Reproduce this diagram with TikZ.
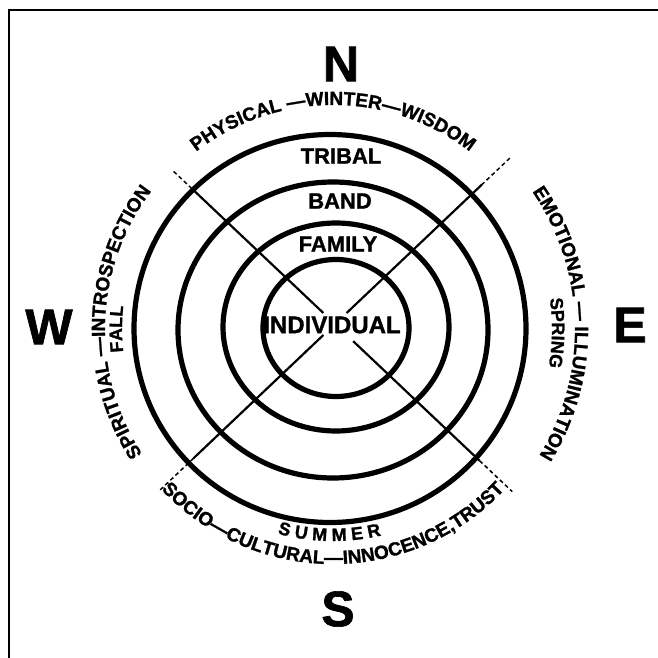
\documentclass[tikz,border=0pt]{standalone}
\usepackage{fontspec}
\setmainfont{Liberation Sans}
\newfontfamily\heavy{Liberation Sans Bold}[FakeBold=1.3]
\usetikzlibrary{decorations.text}
\newcommand{\arcfont}{\fontsize{19}{19}\selectfont\heavy}
\newcommand{\seasonfont}{\fontsize{18}{18}\selectfont\heavy}

\begin{document}
\begin{tikzpicture}[
  x=1pt, y=1pt,
  ring/.style={line width=5.2pt},
  spoke/.style={line width=2.2pt},
  spokeext/.style={line width=1.5pt,dash pattern=on 4pt off 3pt},
  frame/.style={line width=2.4pt},
  circlbl/.style={font=\fontsize{22}{22}\selectfont\heavy,inner sep=0pt},
  compass/.style={font=\fontsize{50}{50}\selectfont\heavy,inner sep=0pt},
  arctext/.style={decorate,decoration={text along path,text align=center,text={#1}}}
]
  \useasboundingbox (0,0) rectangle (658,-658);
  \draw[frame] (9,-658) -- (9,-10) -- (658,-10);

  \coordinate (ctr) at (333,-329);
  \coordinate (xc) at (335,-324);

  % the four circles
  \draw[ring] (330,-328.5) ellipse[x radius=196, y radius=194];
  \draw[ring] (333,-330) ellipse[x radius=155, y radius=148];
  \draw[ring] (336,-327) ellipse[x radius=113, y radius=104];
  \draw[ring] (336,-328) ellipse[x radius=73, y radius=68.5];

  % cross lines, dashed beyond the outer circle
  \foreach \nm/\ang/\gap/\rim/\tip in {nw/136.6/16/197/222, ne/43.5/16/202/244,
                                      sw/223.5/16/195/241, se/316.6/25/199/244}{
    \coordinate (\nm-in) at ([shift={(\ang:\gap)}]xc);
    \coordinate (\nm-rim) at ([shift={(\ang:\rim)}]xc);
    \coordinate (\nm-tip) at ([shift={(\ang:\tip)}]xc);
    \draw[spoke] (\nm-in) -- (\nm-rim);
    \draw[spokeext] (\nm-rim) -- (\nm-tip);
  }

  \node[circlbl] (tribal) at (341,-156) {TRIBAL};
  \node[circlbl] (band) at (340,-201) {BAND};
  \node[circlbl] (family) at (338,-244) {FAMILY};
  \node[circlbl,font=\fontsize{24}{24}\selectfont\heavy] (individual) at (332,-325) {INDIVIDUAL};

  \node[compass] (north) at (341,-64) {N};
  \node[compass] (west) at (49,-327) {W};
  \node[compass] (east) at (630,-325) {E};
  \node[compass] (south) at (338,-609) {S};

  % texts round the rim
  \path[arctext={|\arcfont|PHYSICAL —WINTER—WISDOM}]
    ([shift={(160:224)}]ctr) arc[start angle=160, end angle=20, radius=224];
  \path[arctext={|\arcfont|SPIRITUAL —INTROSPECTION}]
    ([shift={(248:228)}]ctr) arc[start angle=248, end angle=108, radius=228];
  \path[arctext={|\seasonfont|FALL}]
    ([shift={(215:211)}]ctr) arc[start angle=215, end angle=145, radius=211];
  \path[arctext={|\arcfont|EMOTIONAL — ILLUMINATION}]
    ([shift={(61:242)}]ctr) arc[start angle=61, end angle=-58, radius=242];
  \path[arctext={|\seasonfont|SPRING}]
    ([shift={(34:219)}]ctr) arc[start angle=34, end angle=-36, radius=219];
  \path[arctext={|\arcfont|SOCIO—CULTURAL—INNOCENCE,TRUST}]
    ([shift={(200:235)}]ctr) arc[start angle=200, end angle=340, radius=235];
  \path[arctext={|\seasonfont|S U M M E R}]
    ([shift={(234:212)}]ctr) arc[start angle=234, end angle=304, radius=212];
\end{tikzpicture}
\end{document}
